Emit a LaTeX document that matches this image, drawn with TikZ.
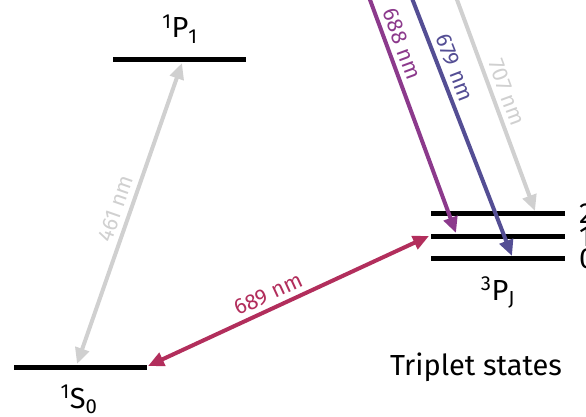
\documentclass[tikz,border=0pt]{standalone}
\usepackage{fontspec}
\setmainfont{Fira Sans}
\usetikzlibrary{arrows.meta}
\pgfdeclarelayer{edgelayer}
\pgfdeclarelayer{nodelayer}
\pgfsetlayers{edgelayer,nodelayer,main}
\definecolor{singletgray}{RGB}{208,208,208}
\definecolor{redline}{RGB}{178,46,92}
\definecolor{purpleline}{RGB}{140,58,140}
\definecolor{indigoline}{RGB}{84,78,148}
\tikzstyle{level}=[draw=black, line width=5pt]
\tikzstyle{transition}=[line width=4pt, -{Triangle[length=16pt,width=14pt]}]
\tikzstyle{twoway}=[line width=4pt, {Triangle[length=16pt,width=14pt]}-{Triangle[length=16pt,width=14pt]}]
\tikzstyle{wavelen}=[font=\fontsize{22}{26}\selectfont, sloped, above, inner sep=5pt]
\tikzstyle{term}=[font=\fontsize{29}{34}\selectfont, anchor=base, inner sep=0pt]
\newcommand{\termsym}[3]{\textsuperscript{#1}#2\textsubscript{#3}}

\begin{document}
\begin{tikzpicture}[x=1pt, y=-1pt]
				\useasboundingbox (0,0) rectangle (586,417);
				\clip (0,0) rectangle (586,417);
				% energy levels
				\coordinate (s0l) at (14,367);
				\coordinate (s0r) at (147,367);
				\coordinate (p1l) at (113,60);
				\coordinate (p1r) at (246,60);
				\coordinate (t2l) at (431,213);
				\coordinate (t2r) at (565,213);
				\coordinate (t1l) at (431,236);
				\coordinate (t1r) at (565,236);
				\coordinate (t0l) at (431,258);
				\coordinate (t0r) at (565,258);
				% arrow ends
				\coordinate (s0a) at (77,364);
				\coordinate (p1a) at (182,63);
				\coordinate (s0b) at (148,366);
				\coordinate (t1a) at (429,236);
				\coordinate (top688) at (359,-30);
				\coordinate (end688) at (456,233);
				\coordinate (top679) at (401,-30);
				\coordinate (end679) at (512,256);
				\coordinate (top707) at (446,-30);
				\coordinate (end707) at (535,211);
				\begin{pgfonlayer}{nodelayer}
					\node [style=term] (singletP) at (180,38) {\termsym{1}{P}{1}};
					\node [style=term] (singletS) at (79,408) {\termsym{1}{S}{0}};
					\node [style=term] (tripletP) at (498,300) {\termsym{3}{P}{J}};
					\node [style=term, anchor=base west] (j2) at (579,223) {2};
					\node [style=term, anchor=base west] (j1) at (579,246) {1};
					\node [style=term, anchor=base west] (j0) at (579,268) {0};
					\node [style=term] (triplet) at (476,375) {Triplet states};
				\end{pgfonlayer}
				\begin{pgfonlayer}{edgelayer}
					\draw [style=level] (s0l) to (s0r);
					\draw [style=level] (p1l) to (p1r);
					\draw [style=level] (t2l) to (t2r);
					\draw [style=level] (t1l) to (t1r);
					\draw [style=level] (t0l) to (t0r);
					\draw [style=twoway, singletgray] (s0a) to node [style=wavelen, pos=0.5] {461 nm} (p1a);
					\draw [style=twoway, redline] (s0b) to node [style=wavelen, pos=0.45] {689 nm} (t1a);
					\draw [style=transition, purpleline] (top688) to node [style=wavelen, pos=0.3] {688 nm} (end688);
					\draw [style=transition, indigoline] (top679) to node [style=wavelen, pos=0.36] {679 nm} (end679);
					\draw [style=transition, singletgray] (top707) to node [style=wavelen, pos=0.53] {707 nm} (end707);
				\end{pgfonlayer}
			\end{tikzpicture}
\end{document}
